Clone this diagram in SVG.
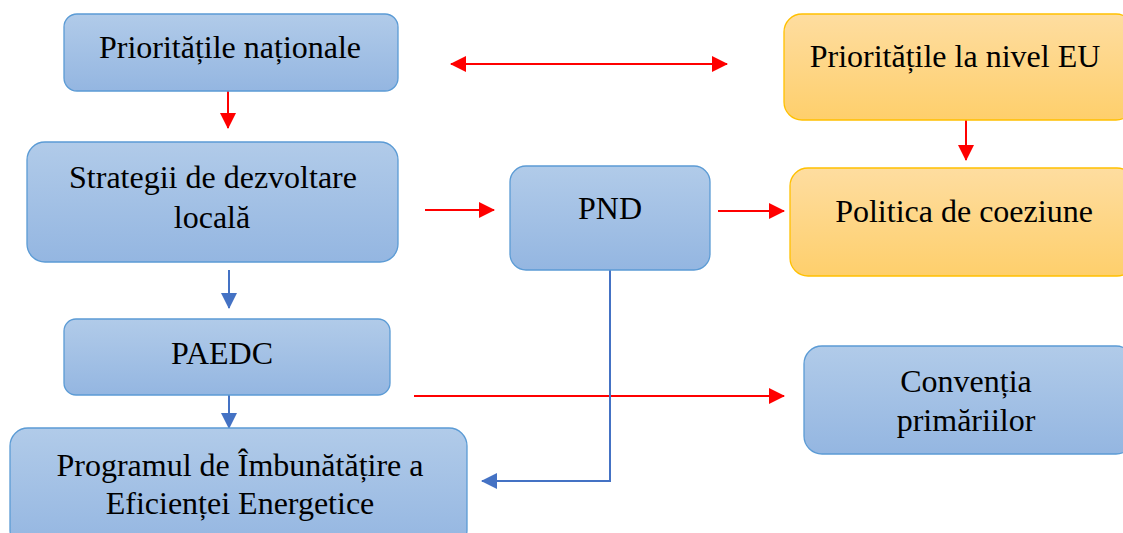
<svg xmlns="http://www.w3.org/2000/svg" width="1123" height="533" viewBox="0 0 1123 533">
<style>
.blue{fill:url(#gb);stroke:#5b9bd5;stroke-width:1.3}
.orange{fill:url(#go);stroke:#ffc000;stroke-width:1.3}
.red{stroke:#ff0000;stroke-width:2;fill:none}
.bl{stroke:#4472c4;stroke-width:2;fill:none}
</style>
<defs>
<linearGradient id="gb" x1="0" y1="0" x2="0" y2="1">
<stop offset="0" stop-color="#b1cbe9"/><stop offset="1" stop-color="#94b6e1"/>
</linearGradient>
<linearGradient id="go" x1="0" y1="0" x2="0" y2="1">
<stop offset="0" stop-color="#fedda0"/><stop offset="1" stop-color="#fecf6c"/>
</linearGradient>
<marker id="ar" markerWidth="8" markerHeight="8" refX="7.5" refY="4" orient="auto-start-reverse" markerUnits="strokeWidth"><path d="M0,0 L8,4 L0,8 Z" fill="#ff0000"/></marker>
<marker id="ab" markerWidth="8" markerHeight="8" refX="7.5" refY="4" orient="auto-start-reverse" markerUnits="strokeWidth"><path d="M0,0 L8,4 L0,8 Z" fill="#4472c4"/></marker>
</defs>
<g id="connectors">
<line class="red" x1="451" y1="64" x2="727" y2="64" marker-start="url(#ar)" marker-end="url(#ar)"/>
<line class="red" x1="228" y1="91" x2="228" y2="128" marker-end="url(#ar)"/>
<line class="red" x1="966" y1="120" x2="966" y2="160" marker-end="url(#ar)"/>
<line class="red" x1="425" y1="210" x2="494" y2="210" marker-end="url(#ar)"/>
<line class="red" x1="718" y1="211" x2="784" y2="211" marker-end="url(#ar)"/>
<line class="bl" x1="229" y1="270" x2="229" y2="308" marker-end="url(#ab)"/>
<line class="bl" x1="229" y1="395" x2="229" y2="428" marker-end="url(#ab)"/>
<line class="red" x1="414" y1="396" x2="784" y2="396" marker-end="url(#ar)"/>
<polyline class="bl" points="610,270 610,481 482,481" marker-end="url(#ab)"/>
</g>
<g font-family="Liberation Serif, Times New Roman, serif" font-size="32" fill="#000" text-anchor="middle">
<g id="n-prioritati-nationale">
<rect class="blue" x="64" y="14" width="334" height="77" rx="13"/>
<text x="230" y="58">Prioritățile naționale</text>
</g>
<g id="n-prioritati-eu">
<rect class="orange" x="784" y="14" width="350" height="106" rx="18"/>
<text x="955" y="67">Prioritățile la nivel EU</text>
</g>
<g id="n-strategii">
<rect class="blue" x="27" y="142" width="371" height="120" rx="18"/>
<text x="213" y="188">Strategii de dezvoltare</text>
<text x="212" y="228">locală</text>
</g>
<g id="n-pnd">
<rect class="blue" x="510" y="166" width="200" height="104" rx="16"/>
<text x="610" y="219">PND</text>
</g>
<g id="n-politica">
<rect class="orange" x="790" y="168" width="345" height="108" rx="18"/>
<text x="964" y="222">Politica de coeziune</text>
</g>
<g id="n-paedc">
<rect class="blue" x="64" y="319" width="326" height="76" rx="12"/>
<text x="222" y="364">PAEDC</text>
</g>
<g id="n-conventia">
<rect class="blue" x="804" y="346" width="330" height="108" rx="18"/>
<text x="966" y="392">Convenția</text>
<text x="966" y="431">primăriilor</text>
</g>
<g id="n-programul">
<rect class="blue" x="10" y="428" width="457" height="120" rx="18"/>
<text x="240" y="476">Programul de Îmbunătățire a</text>
<text x="240" y="514">Eficienței Energetice</text>
</g>
</g>
</svg>
